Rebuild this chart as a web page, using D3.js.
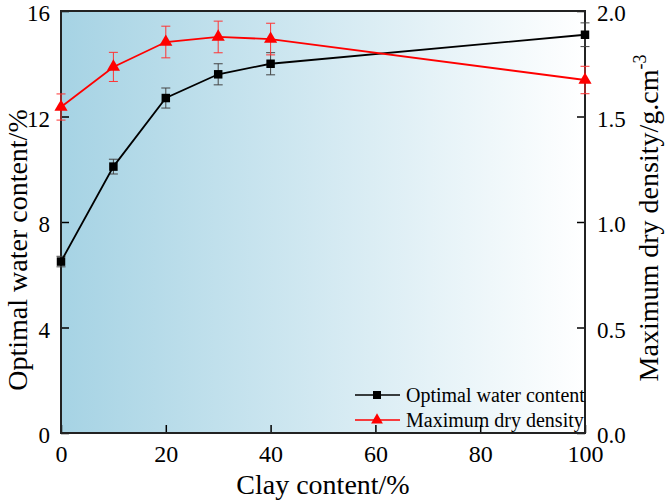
<!DOCTYPE html>
<html>
<head>
<meta charset="utf-8">
<script src="https://cdn.jsdelivr.net/npm/d3@7"></script>
<style>
  body { margin: 0; background: #fff; }
  svg text { font-family: "Times New Roman", "Liberation Serif", "DejaVu Serif", serif !important; }
</style>
</head>
<body>
<div id="chart"></div>
<script>
// Data
const clay = [0, 10, 20, 30, 40, 100];
const waterContent = [6.5, 10.1, 12.7, 13.6, 14.0, 15.1];
const waterErr = [0.2, 0.28, 0.38, 0.4, 0.42, 0.45];
const dryDensity = [1.545, 1.735, 1.853, 1.877, 1.867, 1.673];
const densityErr = [0.062, 0.069, 0.075, 0.075, 0.075, 0.065];
const xTicks = [0, 20, 40, 60, 80, 100];
const yLeftTicks = [0, 4, 8, 12, 16];
const yRightTicks = [0, 0.5, 1.0, 1.5, 2.0];

const FONT = '"Times New Roman", "Liberation Serif", "DejaVu Serif", serif';
const width = 666, height = 500;
const margin = { top: 11, right: 81, bottom: 67, left: 61 };
const w = width - margin.left - margin.right;
const h = height - margin.top - margin.bottom;

const svg = d3.select("#chart").append("svg")
    .attr("width", width)
    .attr("height", height)
    .attr("font-family", FONT);

const defs = svg.append("defs");
const grad = defs.append("linearGradient")
    .attr("id", "bg")
    .attr("x1", "0%").attr("x2", "100%")
    .attr("y1", "0%").attr("y2", "0%");
grad.append("stop").attr("offset", "0%").attr("stop-color", "#a6d3e4");
grad.append("stop").attr("offset", "100%").attr("stop-color", "#ffffff");

const g = svg.append("g").attr("transform", `translate(${margin.left},${margin.top})`);

const x = d3.scaleLinear().domain([0, 100]).range([0, w]);
const yL = d3.scaleLinear().domain([0, 16]).range([h, 0]);
const yR = d3.scaleLinear().domain([0, 2]).range([h, 0]);

g.append("rect")
    .attr("width", w).attr("height", h)
    .attr("fill", "url(#bg)");

// Axes with inward ticks
function styleAxis(sel, fs) {
    sel.attr("font-family", FONT);
    sel.select(".domain").remove();
    sel.selectAll("line").attr("stroke", "#000").attr("stroke-width", 1.5);
    sel.selectAll("text")
        .attr("font-family", FONT)
        .style("font-size", fs)
        .attr("fill", "#000");
}

g.append("g")
    .attr("transform", `translate(0,${h})`)
    .call(d3.axisBottom(x).tickValues(xTicks).tickSize(-8).tickPadding(12).tickFormat(d3.format("d")))
    .call(styleAxis, "24px");

g.append("g")
    .call(d3.axisLeft(yL).tickValues(yLeftTicks).tickSize(-8).tickPadding(11).tickFormat(d3.format("d")))
    .call(styleAxis, "23px")
    .selectAll("text").attr("dy", "0.42em");

g.append("g")
    .attr("transform", `translate(${w},0)`)
    .call(d3.axisRight(yR).tickValues(yRightTicks).tickSize(-8).tickPadding(12).tickFormat(d3.format(".1f")))
    .call(styleAxis, "23px")
    .selectAll("text").attr("dy", "0.42em");

// Frame
g.append("rect")
    .attr("width", w).attr("height", h)
    .attr("fill", "none")
    .attr("stroke", "#222")
    .attr("stroke-width", 2);

// Series
const series = [
    { vals: waterContent, err: waterErr, y: yL, color: "#000", errColor: "#444", sym: d3.symbolSquare, size: 72 },
    { vals: dryDensity, err: densityErr, y: yR, color: "#ff0000", errColor: "#ff3333", sym: d3.symbolTriangle, size: 75 }
];

series.forEach(s => {
    const pts = clay.map((c, i) => ({ c, v: s.vals[i], e: s.err[i] }));

    const eb = g.append("g").attr("stroke", s.errColor).attr("stroke-width", 1);
    pts.forEach(p => {
        eb.append("line")
            .attr("x1", x(p.c)).attr("x2", x(p.c))
            .attr("y1", s.y(p.v - p.e)).attr("y2", s.y(p.v + p.e));
        [p.v - p.e, p.v + p.e].forEach(v => {
            eb.append("line")
                .attr("x1", x(p.c) - 4.5).attr("x2", x(p.c) + 4.5)
                .attr("y1", s.y(v)).attr("y2", s.y(v));
        });
    });

    g.append("path")
        .datum(pts)
        .attr("fill", "none")
        .attr("stroke", s.color)
        .attr("stroke-width", 1.8)
        .attr("d", d3.line().x(p => x(p.c)).y(p => s.y(p.v)));

    g.selectAll(null)
        .data(pts)
        .enter()
        .append("path")
        .attr("transform", p => `translate(${x(p.c)},${s.y(p.v)})`)
        .attr("d", d3.symbol().type(s.sym).size(s.size))
        .attr("fill", s.color);
});

// Legend
const legendItems = [
    { label: "Optimal water content", color: "#000", sym: d3.symbolSquare, size: 64 },
    { label: "Maximum dry density", color: "#ff0000", sym: d3.symbolTriangle, size: 60 }
];
const lg = svg.append("g").attr("transform", "translate(355,395)");
legendItems.forEach((it, i) => {
    const row = lg.append("g").attr("transform", `translate(0,${i * 25})`);
    row.append("line")
        .attr("x1", 0).attr("x2", 45)
        .attr("stroke", it.color).attr("stroke-width", 1.5);
    row.append("path")
        .attr("transform", "translate(22,0)")
        .attr("d", d3.symbol().type(it.sym).size(it.size))
        .attr("fill", it.color);
    row.append("text")
        .attr("x", 51).attr("y", 7)
        .attr("font-family", FONT)
        .style("font-size", "20px")
        .text(it.label);
});

// Axis titles
svg.append("text")
    .attr("x", margin.left + w / 2)
    .attr("y", 494)
    .attr("text-anchor", "middle")
    .attr("font-family", FONT)
    .style("font-size", "28px")
    .text("Clay content/%");

svg.append("text")
    .attr("transform", "translate(27,250) rotate(-90)")
    .attr("text-anchor", "middle")
    .attr("font-family", FONT)
    .style("font-size", "28px")
    .text("Optimal water content/%");

const rt = svg.append("text")
    .attr("transform", "translate(658,218) rotate(-90)")
    .attr("text-anchor", "middle")
    .attr("font-family", FONT)
    .style("font-size", "28px");
rt.append("tspan").text("Maximum dry density/g.cm");
rt.append("tspan").attr("dy", -12).style("font-size", "18px").text("-3");
</script>
</body>
</html>
